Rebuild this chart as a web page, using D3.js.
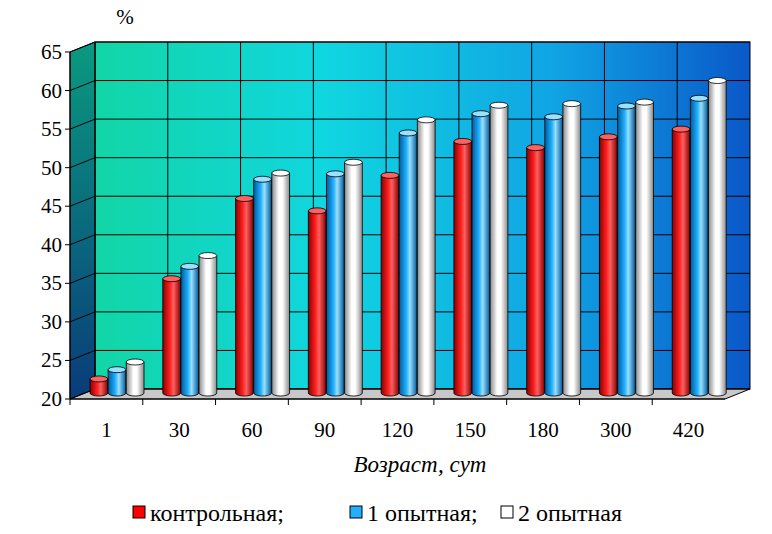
<!DOCTYPE html>
<html><head><meta charset="utf-8">
<script src="https://cdn.jsdelivr.net/npm/d3@7"></script>
<style>body{margin:0;background:#fff}</style>
</head><body><svg id="c" width="772" height="534" font-family="'Liberation Serif', 'DejaVu Serif', serif"></svg>
<script>
const categories = ["1","30","60","90","120","150","180","300","420"];
const control = [22.6, 35.6, 46.0, 44.4, 49.0, 53.4, 52.6, 54.0, 55.0];
const exp1 = [23.8, 37.2, 48.5, 49.2, 54.5, 57.0, 56.6, 58.0, 59.0];
const exp2 = [24.8, 38.6, 49.3, 50.7, 56.2, 58.1, 58.3, 58.5, 61.3];
const seriesNames = ["контрольная;", "1 опытная;", "2 опытная"];
const yTicks = [20,25,30,35,40,45,50,55,60,65];

const svg = d3.select("#c");
const dx = 25, dy = -10;
const x0 = 70, x1 = 725, yTop = 52, yBot = 399;
const x = d3.scaleBand().domain(categories).range([x0, x1]);
const y = d3.scaleLinear().domain([20, 65]).range([yBot, yTop]);
const defs = svg.append("defs");

const wallG = defs.append("linearGradient").attr("id","wall");
wallG.append("stop").attr("offset","0%").attr("stop-color","#12d6a6");
wallG.append("stop").attr("offset","35%").attr("stop-color","#10d6e0");
wallG.append("stop").attr("offset","70%").attr("stop-color","#10a4e4");
wallG.append("stop").attr("offset","100%").attr("stop-color","#0a58c8");
const sideG = defs.append("linearGradient").attr("id","side").attr("x1",0).attr("x2",0).attr("y1",0).attr("y2",1);
sideG.append("stop").attr("offset","0%").attr("stop-color","#0a9a80");
sideG.append("stop").attr("offset","100%").attr("stop-color","#0a3c7a");

svg.append("rect").attr("x", x0+dx).attr("y", yTop+dy).attr("width", x1-x0).attr("height", yBot-yTop)
  .attr("fill","url(#wall)").attr("stroke","#000");
svg.append("path").attr("d",`M${x0},${yTop}L${x0+dx},${yTop+dy}L${x0+dx},${yBot+dy}L${x0},${yBot}Z`)
  .attr("fill","url(#side)").attr("stroke","#000");
svg.append("path").attr("d",`M${x0},${yBot}L${x0+dx},${yBot+dy}L${x1+dx},${yBot+dy}L${x1},${yBot}Z`)
  .attr("fill","#c8c8c8").attr("stroke","#000");

yTicks.forEach(t => {
  svg.append("path").attr("d",`M${x0},${y(t)}L${x0+dx},${y(t)+dy}L${x1+dx},${y(t)+dy}`)
    .attr("fill","none").attr("stroke","#000").attr("stroke-width",1);
  svg.append("line").attr("x1",x0-5).attr("x2",x0).attr("y1",y(t)).attr("y2",y(t)).attr("stroke","#000");
  svg.append("text").attr("x",x0-8).attr("y",y(t)+7).attr("text-anchor","end").attr("font-size",21).text(t);
});
categories.forEach(c => {
  const xx = x(c)+dx;
  svg.append("line").attr("x1",xx).attr("x2",xx).attr("y1",yTop+dy).attr("y2",yBot+dy).attr("stroke","#000");
  svg.append("line").attr("x1",x(c)).attr("x2",x(c)).attr("y1",yBot).attr("y2",yBot+6).attr("stroke","#000");
  svg.append("text").attr("x",x(c)+x.bandwidth()/2).attr("y",yBot+38).attr("text-anchor","middle").attr("font-size",21).text(c);
});
svg.append("line").attr("x1",x0).attr("x2",x0).attr("y1",yTop).attr("y2",yBot).attr("stroke","#000");
svg.append("line").attr("x1",x0).attr("x2",x1).attr("y1",yBot).attr("y2",yBot).attr("stroke","#000");

const colors = [["#8a0000","#ff2020","#ff6060"],["#005a9a","#20b0ff","#9ae0ff"],["#8a8a8a","#ffffff","#ffffff"]];
colors.forEach((cs,i) => {
  const g = defs.append("linearGradient").attr("id","cyl"+i);
  g.append("stop").attr("offset","0%").attr("stop-color",cs[0]);
  g.append("stop").attr("offset","40%").attr("stop-color",cs[1]);
  g.append("stop").attr("offset","60%").attr("stop-color",cs[2]);
  g.append("stop").attr("offset","100%").attr("stop-color",cs[0]);
});

const sub = d3.scaleBand().domain([0,1,2]).range([0, 54]).paddingInner(0.02);
const series = [control, exp1, exp2];
series.forEach((vals,si) => {
  categories.forEach((c,ci) => {
    const bx = x(c) + 20 + sub(si);
    const w = sub.bandwidth(), ry = 3;
    const bt = y(vals[ci]), bb = yBot - 6;
    svg.append("path").attr("d",`M${bx},${bt}L${bx},${bb}A${w/2},${ry} 0 0 0 ${bx+w},${bb}L${bx+w},${bt}Z`)
      .attr("fill",`url(#cyl${si})`).attr("stroke","#000").attr("stroke-width",0.8);
    svg.append("ellipse").attr("cx",bx+w/2).attr("cy",bt).attr("rx",w/2).attr("ry",ry)
      .attr("fill",colors[si][2]).attr("stroke","#000").attr("stroke-width",0.8);
  });
});

svg.append("text").attr("x",125).attr("y",24).attr("text-anchor","middle").attr("font-size",21).text("%");
svg.append("text").attr("x",420).attr("y",472).attr("text-anchor","middle").attr("font-size",23).attr("font-style","italic").text("Возраст, сут");

const legX = [133, 350, 501];
seriesNames.forEach((n,i) => {
  svg.append("rect").attr("x",legX[i]).attr("y",506).attr("width",12).attr("height",12)
    .attr("fill",i==0?"#ff0000":i==1?"#20b0ff":"#fff").attr("stroke","#000");
  svg.append("text").attr("x",legX[i]+17).attr("y",521).attr("font-size",24).text(n);
});
</script></body></html>
